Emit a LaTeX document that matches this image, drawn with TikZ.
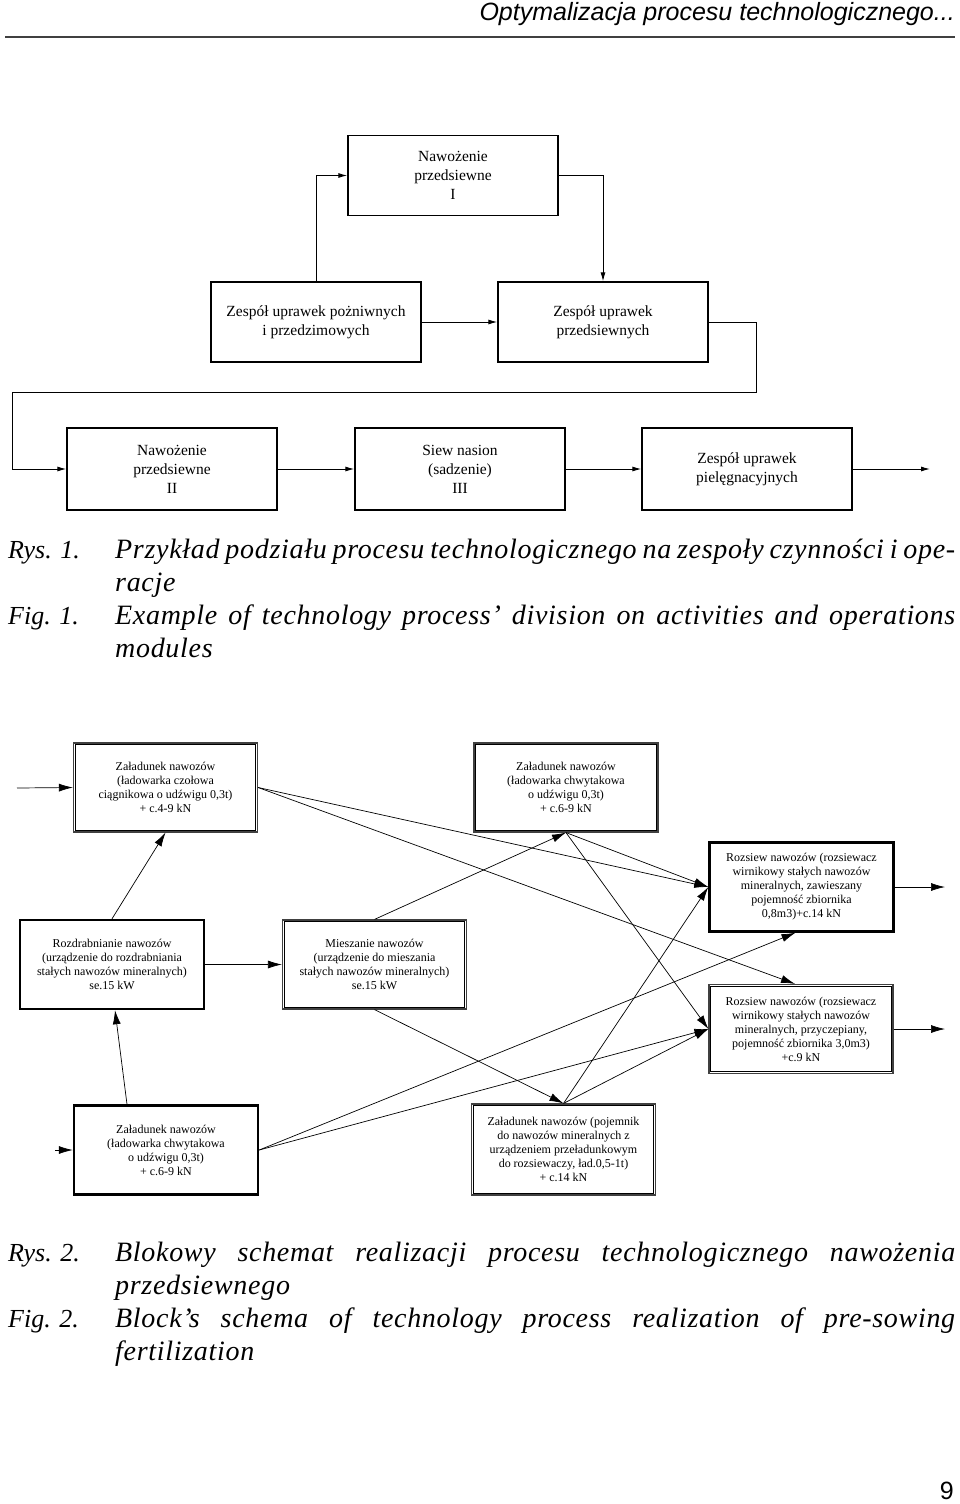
\documentclass[tikz,border=0pt]{standalone}
\usepackage{fontspec}
\setmainfont{Liberation Serif}
\newfontfamily\hdfont{Liberation Sans}
\newfontfamily\capls[LetterSpace=2.5]{Liberation Serif}
\usetikzlibrary{arrows.meta}
\begin{document}
\begin{tikzpicture}[x=1pt,y=-1pt,
  box1/.style={draw, line width=1.2pt, minimum width=210pt, minimum height=80pt, align=center, inner sep=0pt, font=\fontsize{15.5}{19}\selectfont},
  a1/.style={line width=1pt, -{Latex[length=9pt,width=5pt]}},
  box2/.style={minimum width=184pt, minimum height=89pt, align=center, inner sep=0pt, font=\fontsize{12}{14}\selectfont},
  dbl/.style={draw=black!75, line width=1.2pt},
  thk/.style={draw, line width=2.4pt},
  a2/.style={line width=0.7pt, -{Latex[length=14pt,width=8pt]}},
  caplab/.style={anchor=base west, inner sep=0pt, font=\itshape\fontsize{26}{33}\selectfont},
  captxt/.style={anchor=base west, inner sep=0pt, font=\capls\itshape\fontsize{28}{33}\selectfont},
]
\useasboundingbox[fill=white] (0,0) rectangle (960,1504);

% header
\node[anchor=base east, inner sep=0pt, font=\hdfont\itshape\fontsize{25}{30}\selectfont] (hdr) at (955,21) {Optymalizacja procesu technologicznego...};
\coordinate (rl) at (5,37);
\coordinate (rr) at (955,37);
\draw[line width=2pt, black!75] (rl) -- (rr);

% ---------- Fig. 1 ----------
\node[box1] (N1) at (453,175.5) {Nawożenie\\przedsiewne\\I};
\node[box1] (Z1) at (316,322) {Zespół uprawek pożniwnych\\i przedzimowych};
\node[box1] (Z2) at (603,322) {Zespół uprawek\\przedsiewnych};
\node[box1, minimum height=82pt] (N2) at (172,469) {Nawożenie\\przedsiewne\\II};
\node[box1, minimum height=82pt] (S) at (460,469) {Siew nasion\\(sadzenie)\\III};
\node[box1, minimum height=82pt] (P) at (747,469) {Zespół uprawek\\pielęgnacyjnych};

\draw[a1] (Z1.north) |- (N1.west);
\draw[a1] (N1.east) -| (Z2.north);
\draw[a1] (Z1.east) -- (Z2.west);
\coordinate (k1) at (756,392);
\coordinate (k2) at (12,392);
\draw[a1] (Z2.east) -| (k1) -- (k2) |- (N2.west);
\draw[a1] (N2.east) -- (S.west);
\draw[a1] (S.east) -- (P.west);
\coordinate (outP) at (930,469);
\draw[a1] (P.east) -- (outP);

% caption 1
\node[caplab] (r1) at (8,558) {Rys. 1.};
\node[captxt] (t1a) at (115,558) {\makebox[840pt][s]{Przykład podziału procesu technologicznego na zespoły czynności i ope-}};
\node[captxt] (t1b) at (115,591) {racje};
\node[caplab] (f1) at (8,624) {Fig. 1.};
\node[captxt] (t1c) at (115,624) {\makebox[840pt][s]{Example of technology process’ division on activities and operations}};
\node[captxt] (t1d) at (115,657) {modules};

% ---------- Fig. 2 ----------
\node[box2,dbl] (A) at (165.5,787.5) {Załadunek nawozów\\(ładowarka czołowa\\ciągnikowa o udźwigu 0,3t)\\+ c.4-9 kN};
\node[box2,dbl] (B) at (566,787.5) {Załadunek nawozów\\(ładowarka chwytakowa\\o udźwigu 0,3t)\\+ c.6-9 kN};
\node[box2,thk] (C) at (801.5,887) {Rozsiew nawozów (rozsiewacz\\wirnikowy stałych nawozów\\mineralnych, zawieszany\\pojemność zbiornika\\0,8m3)+c.14 kN};
\node[box2,thk] (D) at (112,964.5) {Rozdrabnianie nawozów\\(urządzenie do rozdrabniania\\stałych nawozów mineralnych)\\se.15 kW};
\node[box2,dbl] (E) at (374.5,964.5) {Mieszanie nawozów\\(urządzenie do mieszania\\stałych nawozów mineralnych)\\se.15 kW};
\node[box2,dbl] (F) at (801,1029) {Rozsiew nawozów (rozsiewacz\\wirnikowy stałych nawozów\\mineralnych, przyczepiany,\\pojemność zbiornika 3,0m3)\\+c.9 kN};
\node[box2,thk] (G) at (166,1150) {Załadunek nawozów\\(ładowarka chwytakowa\\o udźwigu 0,3t)\\+ c.6-9 kN};
\node[box2,dbl,minimum height=91pt] (H) at (563.5,1149.5) {Załadunek nawozów (pojemnik\\do nawozów mineralnych z\\urządzeniem przeładunkowym\\do rozsiewaczy, ład.0,5-1t)\\+ c.14 kN};

% inner lines of the double borders
\foreach \n in {A,B,E,F,H}
  \draw[line width=0.7pt] ([shift={(2.4pt,-2.4pt)}]\n.north west) rectangle ([shift={(-2.4pt,2.4pt)}]\n.south east);

\coordinate (inA) at (17,788);
\draw[a2] (inA) -- (A.west);
\draw[a2] (D.north) -- (A.south);
\draw[a2] ([xshift=-39pt]G.north) -- ([xshift=3pt]D.south);
\draw[a2] (D.east) -- (E.west);
\draw[a2] (E.north) -- (B.south);
\draw[a2] (A.east) -- (C.west);
\draw[a2] (A.east) -- ([xshift=-6pt]F.north);
\draw[a2] (B.south) -- (C.west);
\draw[a2] (B.south) -- (F.west);
\draw[a2] (E.south) -- (H.north);
\draw[a2] (G.east) -- ([xshift=-6pt]C.south);
\draw[a2] (G.east) -- (F.west);
\draw[a2] (H.north) -- (C.west);
\draw[a2] (H.north) -- (F.west);
\coordinate (outC) at (945,887);
\draw[a2] (C.east) -- (outC);
\coordinate (outF) at (945,1029);
\draw[a2] (F.east) -- (outF);
\coordinate (inG) at (55,1150);
\draw[a2] (inG) -- (G.west);

% caption 2
\node[caplab] (r2) at (8,1261) {Rys. 2.};
\node[captxt] (t2a) at (115,1261) {\makebox[840pt][s]{Blokowy schemat realizacji procesu technologicznego nawożenia}};
\node[captxt] (t2b) at (115,1294) {przedsiewnego};
\node[caplab] (f2) at (8,1327) {Fig. 2.};
\node[captxt] (t2c) at (115,1327) {\makebox[840pt][s]{Block’s schema of technology process realization of pre-sowing}};
\node[captxt] (t2d) at (115,1360) {fertilization};

% page number
\node[anchor=base east, inner sep=0pt, font=\hdfont\fontsize{25}{30}\selectfont] (pg) at (954,1499) {9};
\end{tikzpicture}
\end{document}
